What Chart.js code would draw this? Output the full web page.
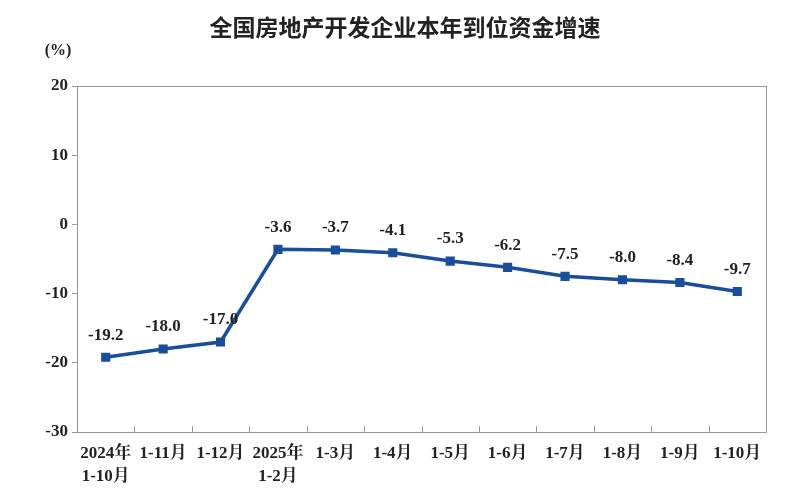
<!DOCTYPE html>
<html><head><meta charset="utf-8">
<script src="https://cdn.jsdelivr.net/npm/chart.js@4/dist/chart.umd.min.js"></script>
<style>html,body{margin:0;padding:0;background:#fff}#wrap{width:800px;height:492px}</style>
</head><body><div id="wrap"><canvas id="c" width="800" height="492"></canvas></div>
<script>
const categories = [["2024年","1-10月"],"1-11月","1-12月",["2025年","1-2月"],"1-3月","1-4月","1-5月","1-6月","1-7月","1-8月","1-9月","1-10月"];
const growth = [-19.2,-18.0,-17.0,-3.6,-3.7,-4.1,-5.3,-6.2,-7.5,-8.0,-8.4,-9.7];
const yTicks = [20,10,0,-10,-20,-30];
const titleText = "全国房地产开发企业本年到位资金增速";
const unitText = "(%)";

const serif = "'Liberation Serif','Times New Roman','Noto Serif CJK SC','Noto Sans CJK SC',serif";
const lineColor = "#1a4d9a";

const decor = {
  id: 'decor',
  afterDraw(chart) {
    const ctx = chart.ctx, a = chart.chartArea, xs = chart.scales.x;
    ctx.save();
    ctx.strokeStyle = '#9a9a9a'; ctx.lineWidth = 1;
    ctx.strokeRect(Math.round(a.left)+0.5, Math.round(a.top)+0.5, Math.round(a.right-a.left), Math.round(a.bottom-a.top));
    for (let i = 1; i < categories.length; i++) {
      const x = Math.round((xs.getPixelForTick(i-1) + xs.getPixelForTick(i)) / 2) + 0.5;
      ctx.beginPath(); ctx.moveTo(x, a.bottom); ctx.lineTo(x, a.bottom - 6); ctx.stroke();
    }
    ctx.fillStyle = '#222';
    ctx.font = "bold 23px 'Noto Sans CJK SC', sans-serif";
    ctx.textAlign = 'center'; ctx.textBaseline = 'middle';
    ctx.fillText(titleText, 405, 27);
    ctx.font = "bold 16px " + serif;
    ctx.fillText(unitText, 58, 51);
    const meta = chart.getDatasetMeta(0);
    ctx.font = "bold 17px " + serif;
    meta.data.forEach((p, i) => {
      ctx.fillText(growth[i].toFixed(1), p.x, p.y - 22);
    });
    ctx.restore();
  }
};

new Chart(document.getElementById('c'), {
  type: 'line',
  data: { labels: categories, datasets: [{
    data: growth, borderColor: lineColor, backgroundColor: lineColor, borderWidth: 3.5,
    pointStyle: 'rect', pointRadius: 4, pointHoverRadius: 4, tension: 0
  }]},
  options: {
    responsive: false, animation: false, devicePixelRatio: 1,
    layout: { padding: { top: 86, right: 34, bottom: 0, left: 0 } },
    plugins: { legend: { display: false }, tooltip: { enabled: false }, title: { display: false } },
    scales: {
      x: {
        offset: true,
        grid: { display: false, drawOnChartArea: false },
        border: { display: false },
        ticks: { color: '#222', font: { family: serif, size: 17, weight: 'bold', lineHeight: 1.35 }, maxRotation: 0, autoSkip: false, padding: 2 },
        afterFit(s) { s.height = 60; }
      },
      y: {
        min: -30, max: 20,
        afterBuildTicks(s) { s.ticks = yTicks.map(v => ({ value: v })); },
        grid: { drawOnChartArea: false, tickLength: 5, color: '#9a9a9a' },
        border: { display: false },
        ticks: { color: '#222', font: { family: serif, size: 17, weight: 'bold' }, padding: 4 },
        afterFit(s) { s.width = 77; }
      }
    }
  },
  plugins: [decor]
});
</script></body></html>
